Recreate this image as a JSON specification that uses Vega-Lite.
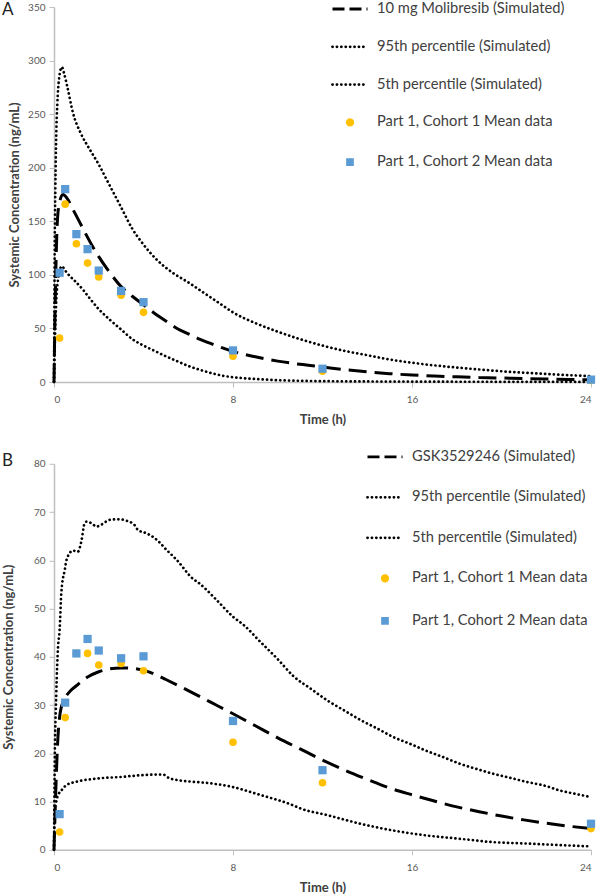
{
  "$schema": "https://vega.github.io/schema/vega-lite/v6.json",
  "background": "white",
  "padding": {"left": 2, "top": -10, "right": 0, "bottom": 0},
  "spacing": 10.8,
  "config": {
    "view": {"stroke": null},
    "font": "Lato",
    "axis": {
      "grid": false,
      "domainColor": "#BFBFBF",
      "domainWidth": 1.5,
      "tickColor": "#BFBFBF",
      "tickWidth": 1,
      "labelColor": "#595959",
      "labelFont": "Lato",
      "labelFontSize": 10,
      "titleFont": "Lato",
      "titleFontSize": 13,
      "titleFontWeight": "bold",
      "titleColor": "#404040"
    },
    "legend": {
      "orient": "none",
      "title": null,
      "padding": 0,
      "labelFont": "Lato",
      "labelFontSize": 14.7,
      "labelColor": "#404040",
      "labelLimit": 400,
      "labelOffset": 8,
      "symbolSize": 1225,
      "symbolType": "stroke",
      "symbolStrokeWidth": 2.8
    }
  },
  "datasets": {
    "a": [
      {"series": "10 mg Molibresib (Simulated)", "t": 0, "c": 0},
      {"series": "10 mg Molibresib (Simulated)", "t": 0.05, "c": 70},
      {"series": "10 mg Molibresib (Simulated)", "t": 0.1, "c": 120},
      {"series": "10 mg Molibresib (Simulated)", "t": 0.15, "c": 150},
      {"series": "10 mg Molibresib (Simulated)", "t": 0.25, "c": 168},
      {"series": "10 mg Molibresib (Simulated)", "t": 0.4, "c": 175},
      {"series": "10 mg Molibresib (Simulated)", "t": 0.6, "c": 171},
      {"series": "10 mg Molibresib (Simulated)", "t": 0.8, "c": 163},
      {"series": "10 mg Molibresib (Simulated)", "t": 1, "c": 155},
      {"series": "10 mg Molibresib (Simulated)", "t": 1.25, "c": 145},
      {"series": "10 mg Molibresib (Simulated)", "t": 1.5, "c": 135},
      {"series": "10 mg Molibresib (Simulated)", "t": 2, "c": 117},
      {"series": "10 mg Molibresib (Simulated)", "t": 2.5, "c": 102},
      {"series": "10 mg Molibresib (Simulated)", "t": 3, "c": 89},
      {"series": "10 mg Molibresib (Simulated)", "t": 3.5, "c": 80},
      {"series": "10 mg Molibresib (Simulated)", "t": 4, "c": 72},
      {"series": "10 mg Molibresib (Simulated)", "t": 4.5, "c": 64},
      {"series": "10 mg Molibresib (Simulated)", "t": 5, "c": 57},
      {"series": "10 mg Molibresib (Simulated)", "t": 5.5, "c": 50},
      {"series": "10 mg Molibresib (Simulated)", "t": 6, "c": 45},
      {"series": "10 mg Molibresib (Simulated)", "t": 6.5, "c": 40},
      {"series": "10 mg Molibresib (Simulated)", "t": 7, "c": 36},
      {"series": "10 mg Molibresib (Simulated)", "t": 7.5, "c": 32},
      {"series": "10 mg Molibresib (Simulated)", "t": 8, "c": 28.5},
      {"series": "10 mg Molibresib (Simulated)", "t": 9, "c": 23.5},
      {"series": "10 mg Molibresib (Simulated)", "t": 10, "c": 19.5},
      {"series": "10 mg Molibresib (Simulated)", "t": 11, "c": 16.5},
      {"series": "10 mg Molibresib (Simulated)", "t": 12, "c": 14},
      {"series": "10 mg Molibresib (Simulated)", "t": 13, "c": 11.5},
      {"series": "10 mg Molibresib (Simulated)", "t": 14, "c": 9.5},
      {"series": "10 mg Molibresib (Simulated)", "t": 15, "c": 7.8},
      {"series": "10 mg Molibresib (Simulated)", "t": 16, "c": 6.5},
      {"series": "10 mg Molibresib (Simulated)", "t": 17, "c": 5.6},
      {"series": "10 mg Molibresib (Simulated)", "t": 18, "c": 4.8},
      {"series": "10 mg Molibresib (Simulated)", "t": 19, "c": 4.2},
      {"series": "10 mg Molibresib (Simulated)", "t": 20, "c": 3.7},
      {"series": "10 mg Molibresib (Simulated)", "t": 21, "c": 3.2},
      {"series": "10 mg Molibresib (Simulated)", "t": 22, "c": 2.8},
      {"series": "10 mg Molibresib (Simulated)", "t": 23, "c": 2.4},
      {"series": "10 mg Molibresib (Simulated)", "t": 24, "c": 2},
      {"series": "95th percentile (Simulated)", "t": 0, "c": 0},
      {"series": "95th percentile (Simulated)", "t": 0.03, "c": 120},
      {"series": "95th percentile (Simulated)", "t": 0.06, "c": 180},
      {"series": "95th percentile (Simulated)", "t": 0.1, "c": 230},
      {"series": "95th percentile (Simulated)", "t": 0.15, "c": 260},
      {"series": "95th percentile (Simulated)", "t": 0.22, "c": 282},
      {"series": "95th percentile (Simulated)", "t": 0.35, "c": 294},
      {"series": "95th percentile (Simulated)", "t": 0.45, "c": 288},
      {"series": "95th percentile (Simulated)", "t": 0.6, "c": 275},
      {"series": "95th percentile (Simulated)", "t": 0.85, "c": 251},
      {"series": "95th percentile (Simulated)", "t": 1.2, "c": 232},
      {"series": "95th percentile (Simulated)", "t": 1.6, "c": 217},
      {"series": "95th percentile (Simulated)", "t": 2, "c": 203},
      {"series": "95th percentile (Simulated)", "t": 2.4, "c": 187},
      {"series": "95th percentile (Simulated)", "t": 3, "c": 163},
      {"series": "95th percentile (Simulated)", "t": 3.5, "c": 143},
      {"series": "95th percentile (Simulated)", "t": 3.9, "c": 131},
      {"series": "95th percentile (Simulated)", "t": 4.6, "c": 114},
      {"series": "95th percentile (Simulated)", "t": 5.3, "c": 102},
      {"series": "95th percentile (Simulated)", "t": 6, "c": 93},
      {"series": "95th percentile (Simulated)", "t": 6.5, "c": 86},
      {"series": "95th percentile (Simulated)", "t": 7, "c": 79},
      {"series": "95th percentile (Simulated)", "t": 7.5, "c": 72},
      {"series": "95th percentile (Simulated)", "t": 8, "c": 65},
      {"series": "95th percentile (Simulated)", "t": 9, "c": 55},
      {"series": "95th percentile (Simulated)", "t": 10, "c": 47},
      {"series": "95th percentile (Simulated)", "t": 11, "c": 40},
      {"series": "95th percentile (Simulated)", "t": 12, "c": 34},
      {"series": "95th percentile (Simulated)", "t": 13, "c": 29},
      {"series": "95th percentile (Simulated)", "t": 14, "c": 25},
      {"series": "95th percentile (Simulated)", "t": 15, "c": 21},
      {"series": "95th percentile (Simulated)", "t": 16, "c": 18},
      {"series": "95th percentile (Simulated)", "t": 17, "c": 15.5},
      {"series": "95th percentile (Simulated)", "t": 18, "c": 13.5},
      {"series": "95th percentile (Simulated)", "t": 19, "c": 11.7},
      {"series": "95th percentile (Simulated)", "t": 20, "c": 10},
      {"series": "95th percentile (Simulated)", "t": 21, "c": 8.7},
      {"series": "95th percentile (Simulated)", "t": 22, "c": 7.5},
      {"series": "95th percentile (Simulated)", "t": 23, "c": 6.4},
      {"series": "95th percentile (Simulated)", "t": 24, "c": 5.5},
      {"series": "5th percentile (Simulated)", "t": 0, "c": 0},
      {"series": "5th percentile (Simulated)", "t": 0.05, "c": 45},
      {"series": "5th percentile (Simulated)", "t": 0.1, "c": 75},
      {"series": "5th percentile (Simulated)", "t": 0.2, "c": 98},
      {"series": "5th percentile (Simulated)", "t": 0.35, "c": 108},
      {"series": "5th percentile (Simulated)", "t": 0.5, "c": 104},
      {"series": "5th percentile (Simulated)", "t": 0.7, "c": 99},
      {"series": "5th percentile (Simulated)", "t": 0.9, "c": 95},
      {"series": "5th percentile (Simulated)", "t": 1.3, "c": 86},
      {"series": "5th percentile (Simulated)", "t": 1.6, "c": 78},
      {"series": "5th percentile (Simulated)", "t": 2, "c": 68},
      {"series": "5th percentile (Simulated)", "t": 2.5, "c": 58},
      {"series": "5th percentile (Simulated)", "t": 3, "c": 49},
      {"series": "5th percentile (Simulated)", "t": 3.5, "c": 40},
      {"series": "5th percentile (Simulated)", "t": 4, "c": 34},
      {"series": "5th percentile (Simulated)", "t": 4.5, "c": 29},
      {"series": "5th percentile (Simulated)", "t": 5, "c": 24},
      {"series": "5th percentile (Simulated)", "t": 5.5, "c": 19.5},
      {"series": "5th percentile (Simulated)", "t": 6, "c": 15},
      {"series": "5th percentile (Simulated)", "t": 6.5, "c": 11.5},
      {"series": "5th percentile (Simulated)", "t": 7, "c": 8.5},
      {"series": "5th percentile (Simulated)", "t": 7.5, "c": 6},
      {"series": "5th percentile (Simulated)", "t": 8, "c": 4.5},
      {"series": "5th percentile (Simulated)", "t": 9, "c": 2.8},
      {"series": "5th percentile (Simulated)", "t": 10, "c": 1.7},
      {"series": "5th percentile (Simulated)", "t": 11, "c": 1.1},
      {"series": "5th percentile (Simulated)", "t": 12, "c": 0.8},
      {"series": "5th percentile (Simulated)", "t": 14, "c": 0.5},
      {"series": "5th percentile (Simulated)", "t": 16, "c": 0.35},
      {"series": "5th percentile (Simulated)", "t": 18, "c": 0.25},
      {"series": "5th percentile (Simulated)", "t": 20, "c": 0.2},
      {"series": "5th percentile (Simulated)", "t": 22, "c": 0.15},
      {"series": "5th percentile (Simulated)", "t": 24, "c": 0.1},
      {"series": "Part 1, Cohort 1 Mean data", "t": 0.25, "c": 41},
      {"series": "Part 1, Cohort 1 Mean data", "t": 0.5, "c": 166},
      {"series": "Part 1, Cohort 1 Mean data", "t": 1, "c": 129},
      {"series": "Part 1, Cohort 1 Mean data", "t": 1.5, "c": 111},
      {"series": "Part 1, Cohort 1 Mean data", "t": 2, "c": 98},
      {"series": "Part 1, Cohort 1 Mean data", "t": 3, "c": 81},
      {"series": "Part 1, Cohort 1 Mean data", "t": 4, "c": 65},
      {"series": "Part 1, Cohort 1 Mean data", "t": 8, "c": 24},
      {"series": "Part 1, Cohort 1 Mean data", "t": 12, "c": 10},
      {"series": "Part 1, Cohort 1 Mean data", "t": 24, "c": 1.5},
      {"series": "Part 1, Cohort 2 Mean data", "t": 0.25, "c": 102},
      {"series": "Part 1, Cohort 2 Mean data", "t": 0.5, "c": 180},
      {"series": "Part 1, Cohort 2 Mean data", "t": 1, "c": 138},
      {"series": "Part 1, Cohort 2 Mean data", "t": 1.5, "c": 124},
      {"series": "Part 1, Cohort 2 Mean data", "t": 2, "c": 104},
      {"series": "Part 1, Cohort 2 Mean data", "t": 3, "c": 85},
      {"series": "Part 1, Cohort 2 Mean data", "t": 4, "c": 74.5},
      {"series": "Part 1, Cohort 2 Mean data", "t": 8, "c": 29.5},
      {"series": "Part 1, Cohort 2 Mean data", "t": 12, "c": 12.4},
      {"series": "Part 1, Cohort 2 Mean data", "t": 24, "c": 2.2}
    ],
    "b": [
      {"series": "GSK3529246 (Simulated)", "t": 0, "c": 0},
      {"series": "GSK3529246 (Simulated)", "t": 0.05, "c": 8},
      {"series": "GSK3529246 (Simulated)", "t": 0.1, "c": 15},
      {"series": "GSK3529246 (Simulated)", "t": 0.15, "c": 21},
      {"series": "GSK3529246 (Simulated)", "t": 0.2, "c": 25},
      {"series": "GSK3529246 (Simulated)", "t": 0.3, "c": 29},
      {"series": "GSK3529246 (Simulated)", "t": 0.5, "c": 31.5},
      {"series": "GSK3529246 (Simulated)", "t": 0.75, "c": 33},
      {"series": "GSK3529246 (Simulated)", "t": 1, "c": 34},
      {"series": "GSK3529246 (Simulated)", "t": 1.5, "c": 35.8},
      {"series": "GSK3529246 (Simulated)", "t": 2, "c": 36.9},
      {"series": "GSK3529246 (Simulated)", "t": 2.5, "c": 37.5},
      {"series": "GSK3529246 (Simulated)", "t": 3, "c": 37.7},
      {"series": "GSK3529246 (Simulated)", "t": 3.5, "c": 37.6},
      {"series": "GSK3529246 (Simulated)", "t": 4, "c": 37.2},
      {"series": "GSK3529246 (Simulated)", "t": 4.5, "c": 36.4},
      {"series": "GSK3529246 (Simulated)", "t": 5, "c": 35.3},
      {"series": "GSK3529246 (Simulated)", "t": 6, "c": 33},
      {"series": "GSK3529246 (Simulated)", "t": 7, "c": 30.6},
      {"series": "GSK3529246 (Simulated)", "t": 8, "c": 28.2},
      {"series": "GSK3529246 (Simulated)", "t": 9, "c": 25.7},
      {"series": "GSK3529246 (Simulated)", "t": 10, "c": 23.2},
      {"series": "GSK3529246 (Simulated)", "t": 11, "c": 20.9},
      {"series": "GSK3529246 (Simulated)", "t": 12, "c": 18.6},
      {"series": "GSK3529246 (Simulated)", "t": 13, "c": 16.5},
      {"series": "GSK3529246 (Simulated)", "t": 14, "c": 14.6},
      {"series": "GSK3529246 (Simulated)", "t": 15, "c": 12.8},
      {"series": "GSK3529246 (Simulated)", "t": 16, "c": 11.4},
      {"series": "GSK3529246 (Simulated)", "t": 17, "c": 10.1},
      {"series": "GSK3529246 (Simulated)", "t": 18, "c": 8.9},
      {"series": "GSK3529246 (Simulated)", "t": 19, "c": 7.9},
      {"series": "GSK3529246 (Simulated)", "t": 20, "c": 7},
      {"series": "GSK3529246 (Simulated)", "t": 21, "c": 6.2},
      {"series": "GSK3529246 (Simulated)", "t": 22, "c": 5.5},
      {"series": "GSK3529246 (Simulated)", "t": 23, "c": 4.9},
      {"series": "GSK3529246 (Simulated)", "t": 24, "c": 4.4},
      {"series": "95th percentile (Simulated)", "t": 0, "c": 0},
      {"series": "95th percentile (Simulated)", "t": 0.03, "c": 17},
      {"series": "95th percentile (Simulated)", "t": 0.1, "c": 32},
      {"series": "95th percentile (Simulated)", "t": 0.18, "c": 42},
      {"series": "95th percentile (Simulated)", "t": 0.25, "c": 45.5},
      {"series": "95th percentile (Simulated)", "t": 0.33, "c": 53.5},
      {"series": "95th percentile (Simulated)", "t": 0.48, "c": 58},
      {"series": "95th percentile (Simulated)", "t": 0.58, "c": 60.4},
      {"series": "95th percentile (Simulated)", "t": 0.85, "c": 62},
      {"series": "95th percentile (Simulated)", "t": 1.07, "c": 61.8},
      {"series": "95th percentile (Simulated)", "t": 1.22, "c": 63.9},
      {"series": "95th percentile (Simulated)", "t": 1.37, "c": 67.7},
      {"series": "95th percentile (Simulated)", "t": 1.45, "c": 68},
      {"series": "95th percentile (Simulated)", "t": 1.67, "c": 67.7},
      {"series": "95th percentile (Simulated)", "t": 1.9, "c": 67},
      {"series": "95th percentile (Simulated)", "t": 2.12, "c": 67.4},
      {"series": "95th percentile (Simulated)", "t": 2.5, "c": 68.4},
      {"series": "95th percentile (Simulated)", "t": 2.94, "c": 68.5},
      {"series": "95th percentile (Simulated)", "t": 3.24, "c": 68.2},
      {"series": "95th percentile (Simulated)", "t": 3.6, "c": 67.3},
      {"series": "95th percentile (Simulated)", "t": 3.75, "c": 66.3},
      {"series": "95th percentile (Simulated)", "t": 4.13, "c": 65.6},
      {"series": "95th percentile (Simulated)", "t": 4.5, "c": 64.6},
      {"series": "95th percentile (Simulated)", "t": 4.72, "c": 63.7},
      {"series": "95th percentile (Simulated)", "t": 5, "c": 62.3},
      {"series": "95th percentile (Simulated)", "t": 5.5, "c": 60},
      {"series": "95th percentile (Simulated)", "t": 6.2, "c": 56.2},
      {"series": "95th percentile (Simulated)", "t": 6.5, "c": 55.2},
      {"series": "95th percentile (Simulated)", "t": 7.26, "c": 51.8},
      {"series": "95th percentile (Simulated)", "t": 8, "c": 48.3},
      {"series": "95th percentile (Simulated)", "t": 8.5, "c": 46.5},
      {"series": "95th percentile (Simulated)", "t": 9.2, "c": 43.2},
      {"series": "95th percentile (Simulated)", "t": 10, "c": 39.5},
      {"series": "95th percentile (Simulated)", "t": 10.7, "c": 36},
      {"series": "95th percentile (Simulated)", "t": 11.5, "c": 33.3},
      {"series": "95th percentile (Simulated)", "t": 12.2, "c": 31},
      {"series": "95th percentile (Simulated)", "t": 13, "c": 28.8},
      {"series": "95th percentile (Simulated)", "t": 13.7, "c": 26.9},
      {"series": "95th percentile (Simulated)", "t": 14.5, "c": 25},
      {"series": "95th percentile (Simulated)", "t": 15.15, "c": 23.4},
      {"series": "95th percentile (Simulated)", "t": 16, "c": 21.8},
      {"series": "95th percentile (Simulated)", "t": 16.6, "c": 20.6},
      {"series": "95th percentile (Simulated)", "t": 17.4, "c": 19.2},
      {"series": "95th percentile (Simulated)", "t": 18.1, "c": 17.9},
      {"series": "95th percentile (Simulated)", "t": 19, "c": 16.6},
      {"series": "95th percentile (Simulated)", "t": 19.6, "c": 15.8},
      {"series": "95th percentile (Simulated)", "t": 20.4, "c": 14.9},
      {"series": "95th percentile (Simulated)", "t": 21.1, "c": 14.1},
      {"series": "95th percentile (Simulated)", "t": 22, "c": 13.2},
      {"series": "95th percentile (Simulated)", "t": 22.6, "c": 12.3},
      {"series": "95th percentile (Simulated)", "t": 23.3, "c": 11.6},
      {"series": "95th percentile (Simulated)", "t": 24, "c": 10.9},
      {"series": "5th percentile (Simulated)", "t": 0, "c": 0},
      {"series": "5th percentile (Simulated)", "t": 0.03, "c": 7.5},
      {"series": "5th percentile (Simulated)", "t": 0.1, "c": 10},
      {"series": "5th percentile (Simulated)", "t": 0.2, "c": 11.5},
      {"series": "5th percentile (Simulated)", "t": 0.33, "c": 12.3},
      {"series": "5th percentile (Simulated)", "t": 0.55, "c": 13.4},
      {"series": "5th percentile (Simulated)", "t": 1, "c": 14.1},
      {"series": "5th percentile (Simulated)", "t": 2, "c": 14.8},
      {"series": "5th percentile (Simulated)", "t": 3, "c": 15.1},
      {"series": "5th percentile (Simulated)", "t": 4, "c": 15.5},
      {"series": "5th percentile (Simulated)", "t": 4.6, "c": 15.6},
      {"series": "5th percentile (Simulated)", "t": 4.87, "c": 15.6},
      {"series": "5th percentile (Simulated)", "t": 5.17, "c": 14.8},
      {"series": "5th percentile (Simulated)", "t": 6.2, "c": 14.1},
      {"series": "5th percentile (Simulated)", "t": 6.5, "c": 14},
      {"series": "5th percentile (Simulated)", "t": 8, "c": 13},
      {"series": "5th percentile (Simulated)", "t": 9.2, "c": 11.4},
      {"series": "5th percentile (Simulated)", "t": 9.5, "c": 11},
      {"series": "5th percentile (Simulated)", "t": 10.7, "c": 9.2},
      {"series": "5th percentile (Simulated)", "t": 11, "c": 8.6},
      {"series": "5th percentile (Simulated)", "t": 12.2, "c": 7.2},
      {"series": "5th percentile (Simulated)", "t": 13.7, "c": 5.4},
      {"series": "5th percentile (Simulated)", "t": 15.15, "c": 4},
      {"series": "5th percentile (Simulated)", "t": 16.6, "c": 3},
      {"series": "5th percentile (Simulated)", "t": 18.1, "c": 2.3},
      {"series": "5th percentile (Simulated)", "t": 19.6, "c": 1.6},
      {"series": "5th percentile (Simulated)", "t": 21.1, "c": 1.3},
      {"series": "5th percentile (Simulated)", "t": 22.5, "c": 1},
      {"series": "5th percentile (Simulated)", "t": 24, "c": 0.7},
      {"series": "Part 1, Cohort 1 Mean data", "t": 0.25, "c": 3.7},
      {"series": "Part 1, Cohort 1 Mean data", "t": 0.5, "c": 27.4},
      {"series": "Part 1, Cohort 1 Mean data", "t": 1, "c": 40.7},
      {"series": "Part 1, Cohort 1 Mean data", "t": 1.5, "c": 40.7},
      {"series": "Part 1, Cohort 1 Mean data", "t": 2, "c": 38.3},
      {"series": "Part 1, Cohort 1 Mean data", "t": 3, "c": 38.6},
      {"series": "Part 1, Cohort 1 Mean data", "t": 4, "c": 37.1},
      {"series": "Part 1, Cohort 1 Mean data", "t": 8, "c": 22.3},
      {"series": "Part 1, Cohort 1 Mean data", "t": 12, "c": 13.9},
      {"series": "Part 1, Cohort 1 Mean data", "t": 24, "c": 4.4},
      {"series": "Part 1, Cohort 2 Mean data", "t": 0.25, "c": 7.4},
      {"series": "Part 1, Cohort 2 Mean data", "t": 0.5, "c": 30.5},
      {"series": "Part 1, Cohort 2 Mean data", "t": 1, "c": 40.7},
      {"series": "Part 1, Cohort 2 Mean data", "t": 1.5, "c": 43.7},
      {"series": "Part 1, Cohort 2 Mean data", "t": 2, "c": 41.3},
      {"series": "Part 1, Cohort 2 Mean data", "t": 3, "c": 39.7},
      {"series": "Part 1, Cohort 2 Mean data", "t": 4, "c": 40.1},
      {"series": "Part 1, Cohort 2 Mean data", "t": 8, "c": 26.7},
      {"series": "Part 1, Cohort 2 Mean data", "t": 12, "c": 16.5},
      {"series": "Part 1, Cohort 2 Mean data", "t": 24, "c": 5.4}
    ]
  },
  "resolve": {"scale": {"color": "independent"}, "legend": {"color": "independent"}},
  "vconcat": [
    {
      "width": 537,
      "height": 375,
      "title": {"text": "A", "anchor": "start", "frame": "group", "dx": -52, "dy": 29, "offset": 0, "fontSize": 17, "fontWeight": "normal", "font": "Lato", "color": "#222222"},
      "data": {"name": "a"},
      "encoding": {
        "x": {"field": "t", "type": "quantitative", "scale": {"domain": [0, 24], "nice": false},
              "axis": {"values": [0, 8, 16, 24], "title": "Time (h)", "tickSize": 5, "labelPadding": 7.5, "titlePadding": 9}},
        "y": {"field": "c", "type": "quantitative", "scale": {"domain": [0, 350], "nice": false},
              "axis": {"values": [0, 50, 100, 150, 200, 250, 300, 350], "title": "Systemic Concentration (ng/mL)", "tickSize": 5, "labelPadding": 4, "titlePadding": 6}},
        "color": {"field": "series", "type": "nominal",
          "scale": {"domain": ["10 mg Molibresib (Simulated)", "95th percentile (Simulated)", "5th percentile (Simulated)", "Part 1, Cohort 1 Mean data", "Part 1, Cohort 2 Mean data"],
                    "range": ["#000000", "#000000", "#000000", "#FFC000", "#5B9BD5"]},
          "legend": {"legendX": 277, "legendY": -17, "rowPadding": 11.8,
            "encode": {"symbols": {"update": {
              "shape": {"signal": "indexof(datum.value, 'Cohort 1') >= 0 ? 'M0.155,0A0.155,0.155,0,1,1,-0.155,0A0.155,0.155,0,1,1,0.155,0Z' : (indexof(datum.value, 'Cohort 2') >= 0 ? 'M-0.14,-0.14H0.14V0.14H-0.14Z' : 'stroke')"},
              "fill": {"signal": "indexof(datum.value, 'Cohort 1') >= 0 ? '#FFC000' : (indexof(datum.value, 'Cohort 2') >= 0 ? '#5B9BD5' : 'transparent')"},
              "stroke": {"signal": "indexof(datum.value, 'Cohort 1') >= 0 ? '#FFC000' : (indexof(datum.value, 'Cohort 2') >= 0 ? '#5B9BD5' : '#000000')"},
              "strokeDash": {"signal": "indexof(datum.value, 'percentile') >= 0 ? [0.1, 4.3] : (indexof(datum.value, 'Simulated') >= 0 ? [12, 5] : [1, 0])"},
              "strokeCap": {"signal": "indexof(datum.value, 'percentile') >= 0 ? 'round' : 'butt'"},
              "opacity": {"value": 1}
            }}}}
        }
      },
      "layer": [
        {"transform": [{"filter": "datum.series == '10 mg Molibresib (Simulated)'"}],
         "mark": {"type": "line", "strokeWidth": 3, "strokeDash": [18, 8], "interpolate": "monotone"}},
        {"transform": [{"filter": "datum.series == '95th percentile (Simulated)'"}],
         "mark": {"type": "line", "strokeWidth": 2.7, "strokeDash": [0.1, 4.3], "strokeCap": "round", "interpolate": "monotone"}},
        {"transform": [{"filter": "datum.series == '5th percentile (Simulated)'"}],
         "mark": {"type": "line", "strokeWidth": 2.7, "strokeDash": [0.1, 4.3], "strokeCap": "round", "interpolate": "monotone"}},
        {"transform": [{"filter": "datum.series == 'Part 1, Cohort 1 Mean data'"}],
         "mark": {"type": "point", "shape": "circle", "filled": true, "size": 58, "opacity": 1}},
        {"transform": [{"filter": "datum.series == 'Part 1, Cohort 2 Mean data'"}],
         "mark": {"type": "point", "shape": "square", "filled": true, "size": 68, "opacity": 1}}
      ]
    },
    {
      "width": 537,
      "height": 386,
      "title": {"text": "B", "anchor": "start", "frame": "group", "dx": -52, "dy": 32, "offset": 0, "fontSize": 17, "fontWeight": "normal", "font": "Lato", "color": "#222222"},
      "data": {"name": "b"},
      "encoding": {
        "x": {"field": "t", "type": "quantitative", "scale": {"domain": [0, 24], "nice": false},
              "axis": {"values": [0, 8, 16, 24], "title": "Time (h)", "tickSize": 5, "labelPadding": 7.5, "titlePadding": 9}},
        "y": {"field": "c", "type": "quantitative", "scale": {"domain": [0, 80], "nice": false},
              "axis": {"values": [0, 10, 20, 30, 40, 50, 60, 70, 80], "title": "Systemic Concentration (ng/mL)", "tickSize": 5, "labelPadding": 4, "titlePadding": 18}},
        "color": {"field": "series", "type": "nominal",
          "scale": {"domain": ["GSK3529246 (Simulated)", "95th percentile (Simulated)", "5th percentile (Simulated)", "Part 1, Cohort 1 Mean data", "Part 1, Cohort 2 Mean data"],
                    "range": ["#000000", "#000000", "#000000", "#FFC000", "#5B9BD5"]},
          "legend": {"legendX": 312, "legendY": -26, "rowPadding": 14.5,
            "encode": {"symbols": {"update": {
              "shape": {"signal": "indexof(datum.value, 'Cohort 1') >= 0 ? 'M0.155,0A0.155,0.155,0,1,1,-0.155,0A0.155,0.155,0,1,1,0.155,0Z' : (indexof(datum.value, 'Cohort 2') >= 0 ? 'M-0.14,-0.14H0.14V0.14H-0.14Z' : 'stroke')"},
              "fill": {"signal": "indexof(datum.value, 'Cohort 1') >= 0 ? '#FFC000' : (indexof(datum.value, 'Cohort 2') >= 0 ? '#5B9BD5' : 'transparent')"},
              "stroke": {"signal": "indexof(datum.value, 'Cohort 1') >= 0 ? '#FFC000' : (indexof(datum.value, 'Cohort 2') >= 0 ? '#5B9BD5' : '#000000')"},
              "strokeDash": {"signal": "indexof(datum.value, 'percentile') >= 0 ? [0.1, 4.3] : (indexof(datum.value, 'Simulated') >= 0 ? [12, 5] : [1, 0])"},
              "strokeCap": {"signal": "indexof(datum.value, 'percentile') >= 0 ? 'round' : 'butt'"},
              "opacity": {"value": 1}
            }}}}
        }
      },
      "layer": [
        {"transform": [{"filter": "datum.series == 'GSK3529246 (Simulated)'"}],
         "mark": {"type": "line", "strokeWidth": 3, "strokeDash": [18, 8], "interpolate": "monotone"}},
        {"transform": [{"filter": "datum.series == '95th percentile (Simulated)'"}],
         "mark": {"type": "line", "strokeWidth": 2.7, "strokeDash": [0.1, 4.3], "strokeCap": "round", "interpolate": "monotone"}},
        {"transform": [{"filter": "datum.series == '5th percentile (Simulated)'"}],
         "mark": {"type": "line", "strokeWidth": 2.7, "strokeDash": [0.1, 4.3], "strokeCap": "round", "interpolate": "monotone"}},
        {"transform": [{"filter": "datum.series == 'Part 1, Cohort 1 Mean data'"}],
         "mark": {"type": "point", "shape": "circle", "filled": true, "size": 58, "opacity": 1}},
        {"transform": [{"filter": "datum.series == 'Part 1, Cohort 2 Mean data'"}],
         "mark": {"type": "point", "shape": "square", "filled": true, "size": 68, "opacity": 1}}
      ]
    }
  ]
}
